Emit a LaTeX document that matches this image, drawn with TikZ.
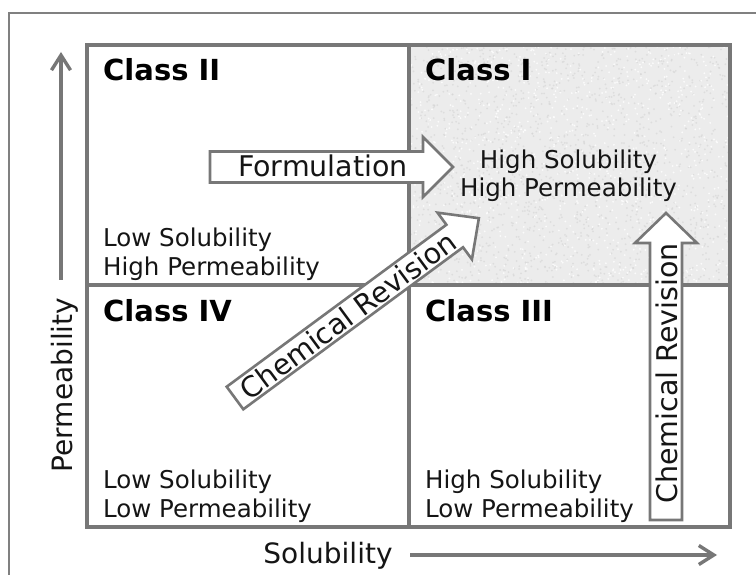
\documentclass[tikz,border=0pt]{standalone}
\usepackage{fontspec}
\setmainfont{DejaVu Sans}
\usetikzlibrary{arrows.meta}
\definecolor{linegray}{HTML}{777777}
\definecolor{bordergray}{HTML}{808080}
\definecolor{fillgray}{HTML}{ECECEC}
\definecolor{txt}{HTML}{151515}
\begin{document}
\begin{tikzpicture}[x=1pt,y=-1pt,
  classlbl/.style={font=\fontsize{29}{31}\selectfont\bfseries, anchor=base west, inner sep=0pt, text=black},
  desc/.style={font=\fontsize{24.5}{29}\selectfont, inner sep=0pt, text=txt, anchor=base west},
  descc/.style={font=\fontsize{24.5}{29}\selectfont, inner sep=0pt, text=txt, anchor=base},
  axislbl/.style={font=\fontsize{28}{30}\selectfont, inner sep=0pt, text=txt},
  arrowlbl/.style={font=\fontsize{28.5}{30}\selectfont, inner sep=0pt, text=txt, anchor=center},
  blockarrow/.style={draw=linegray, fill=white, line width=2.6pt, line join=miter},
  gridline/.style={draw=linegray, line width=3.5pt},
  axisarrow/.style={draw=linegray, line width=3.4pt, -{Straight Barb[length=15pt,width=19pt]}}
]
\useasboundingbox (0,0) rectangle (756,575);
\fill[white] (0,0) rectangle (756,575);
% outer frame
\draw[bordergray, line width=1.3pt] (9,576) -- (9,13) -- (757,13);

% Class I shaded cell with texture
\fill[fillgray] (409,45) rectangle (730,285);
\begin{scope}
  \clip (409,45) rectangle (730,285);
  \pgfmathsetseed{7}
  \foreach \i in {1,...,1600} {
    \pgfmathsetmacro\px{409+321*rnd}
    \pgfmathsetmacro\py{45+240*rnd}
    \fill[black!17, opacity=0.6] (\px,\py) circle (1.0);
  }
  \foreach \i in {1,...,1000} {
    \pgfmathsetmacro\px{409+321*rnd}
    \pgfmathsetmacro\py{45+240*rnd}
    \fill[white, opacity=0.8] (\px,\py) circle (1.0);
  }
\end{scope}

% grid
\draw[gridline, line join=miter] (87,45) rectangle (730,527);
\draw[gridline] (409,45) -- (409,527);
\draw[gridline] (87,285) -- (730,285);

% axes
\coordinate (ytail) at (61,280);
\coordinate (yhead) at (61,52);
\coordinate (xtail) at (410,555);
\coordinate (xhead) at (717,555);
\draw[axisarrow] (ytail) -- (yhead);
\draw[axisarrow] (xtail) -- (xhead);
\node[axislbl, anchor=base, rotate=90] (perm) at (72,385) {Permeability};
\node[axislbl, anchor=base] (sol) at (328,563) {Solubility};

% class titles
\node[classlbl] (c2) at (103,81) {Class II};
\node[classlbl] (c1) at (425,81) {Class I};
\node[classlbl] (c4) at (103,321) {Class IV};
\node[classlbl] (c3) at (425,321) {Class III};

% descriptions
\node[desc] (d2a) at (103,247) {Low Solubility};
\node[desc] (d2b) at (103,276) {High Permeability};
\node[descc] (d1a) at (568.5,169) {High Solubility};
\node[descc] (d1b) at (568.5,197) {High Permeability};
\node[desc] (d4a) at (103,488) {Low Solubility};
\node[desc] (d4b) at (103,517) {Low Permeability};
\node[desc] (d3a) at (425,488) {High Solubility};
\node[desc] (d3b) at (425,517) {Low Permeability};

% Formulation arrow
\draw[blockarrow] (210,151.5) -- (423,151.5) -- (423,137) -- (453,167) -- (423,197) -- (423,182.5) -- (210,182.5) -- cycle;
\node[arrowlbl] (form) at (323,166) {Formulation};

% diagonal Chemical Revision arrow
\begin{scope}[shift={(235,398)}, rotate=36.4]
  \draw[blockarrow] (0,-14) -- (273,-14) -- (273,-29) -- (303,0) -- (273,29) -- (273,14) -- (0,14) -- cycle;
  \node[arrowlbl, rotate=36.4] (chem1) at (140,0.5) {Chemical Revision};
\end{scope}

% vertical Chemical Revision arrow
\draw[blockarrow] (650,520) -- (650,243) -- (635,243) -- (666,213) -- (697,243) -- (682,243) -- (682,520) -- cycle;
\node[arrowlbl, rotate=90] (chem2) at (666.5,373.5) {Chemical Revision};
\end{tikzpicture}
\end{document}
